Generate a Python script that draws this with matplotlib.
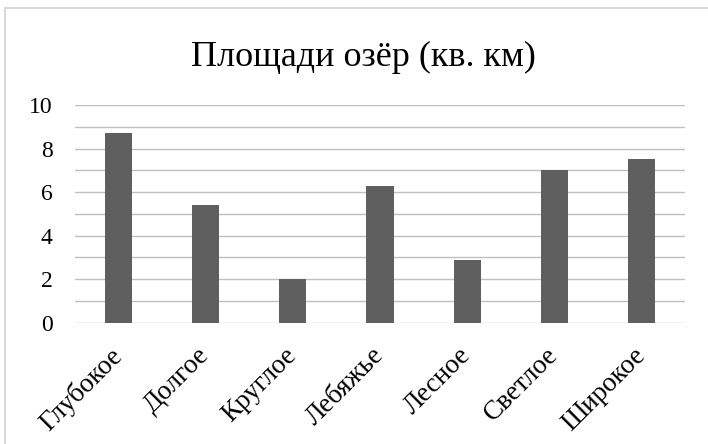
import matplotlib
matplotlib.use("Agg")
import matplotlib.pyplot as plt
from matplotlib.lines import Line2D
import numpy as np

categories = ["Глубокое", "Долгое", "Круглое", "Лебяжье", "Лесное", "Светлое", "Широкое"]
values = [8.7, 5.4, 2.0, 6.3, 2.9, 7.0, 7.5]
yticks = [0, 2, 4, 6, 8, 10]
title = "Площади озёр (кв. км)"

plt.rcParams['font.family'] = ['Liberation Serif', 'DejaVu Serif']

fig = plt.figure(figsize=(7.08, 4.44), dpi=100)
ax = fig.add_axes([75/708, 1-322.7/444, 610/708, (322.7-105)/444])

x = np.arange(len(categories))
ax.bar(x, values, width=0.31, color="#5f5f5f", zorder=3)
ax.set_xlim(-0.5, len(categories)-0.5)
ax.set_ylim(0, 10)
ax.set_yticks(yticks)
ax.set_yticks(np.arange(0, 11, 1), minor=True)
ax.tick_params(axis='y', which='both', length=0, labelsize=17, pad=16)
ax.tick_params(axis='x', length=0)
ax.grid(axis='y', which='both', color="#bfbfbf", linewidth=1.0, zorder=0)
for s in ax.spines.values():
    s.set_visible(False)
ax.set_xticks(x)
ax.set_xticklabels(categories, rotation=45, ha='right', va='center',
                   rotation_mode='anchor', fontsize=19.5)
ax.tick_params(axis='x', pad=21)

fig.text(363/708, 1-57/444, title, ha='center', va='center', fontsize=26)

# chart area border (top and left)
fig.add_artist(Line2D([5/708, 1], [1-8/444, 1-8/444], transform=fig.transFigure, color="#d9d9d9", lw=1.5))
fig.add_artist(Line2D([5/708, 5/708], [0, 1-8/444], transform=fig.transFigure, color="#d9d9d9", lw=1.5))

fig.savefig("out.png", dpi=100)
